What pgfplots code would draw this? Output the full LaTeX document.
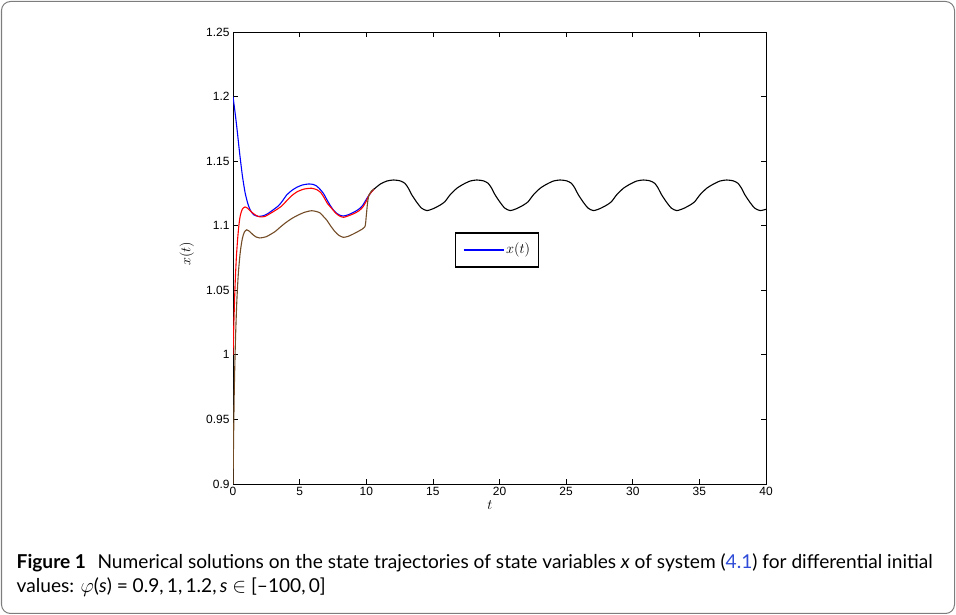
\documentclass[border=0pt]{standalone}
\usepackage{pgfplots}
\pgfplotsset{compat=1.18}
\usepackage{fontspec}
\newfontfamily\tickfont{Liberation Sans}
\newfontfamily\capfont{Lato}
\definecolor{linkblue}{RGB}{45,75,215}
\definecolor{framegray}{RGB}{125,125,125}
\definecolor{curveblue}{RGB}{0,0,255}

% phi = 1.2
\pgfplotstableread{
t y
0 1.2
0.15 1.188
0.3 1.175
0.5 1.156
0.7 1.139
0.9 1.126
1.1 1.1175
1.3 1.112
1.55 1.1085
1.9 1.1072
2.3 1.1078
2.65 1.1096
3.0 1.1122
3.4 1.1153
3.7 1.119
4.03 1.1238
4.4 1.1272
4.78 1.1297
5.2 1.1315
5.65 1.1323
6.0 1.1320
6.28 1.1307
6.55 1.128
6.78 1.1251
7.03 1.1205
7.28 1.116
7.53 1.1122
7.78 1.1096
8.0 1.1082
8.28 1.1075
8.6 1.1083
8.9 1.1096
9.2 1.1112
9.53 1.1135
9.75 1.116
9.9 1.1186
10.15 1.1228
10.4 1.1263
10.6 1.1285
}\curveA

% phi = 1
\pgfplotstableread{
t y
0 1.0
0.08 1.03
0.16 1.055
0.25 1.075
0.35 1.09
0.45 1.101
0.55 1.108
0.7 1.1128
0.9 1.1145
1.1 1.1135
1.4 1.1105
1.7 1.1082
2.0 1.1068
2.4 1.1072
2.8 1.1095
3.2 1.112
3.6 1.1148
4.0 1.119
4.4 1.1232
4.8 1.1262
5.3 1.1283
5.9 1.129
6.3 1.1278
6.6 1.1255
6.85 1.1215
7.1 1.117
7.4 1.1135
7.7 1.1098
8.0 1.1075
8.3 1.1065
8.7 1.1078
9.1 1.1095
9.45 1.1115
9.75 1.1145
10.0 1.119
10.2 1.1235
10.4 1.1262
10.6 1.1285
}\curveB

% phi = 0.9
\pgfplotstableread{
t y
0 0.9
0.05 0.94
0.1 0.975
0.18 1.01
0.28 1.04
0.4 1.063
0.55 1.08
0.7 1.09
0.85 1.095
1.03 1.0968
1.25 1.0955
1.5 1.093
1.75 1.0912
2.0 1.0905
2.5 1.0915
3.15 1.0954
3.5 1.0985
3.9 1.1019
4.4 1.1055
4.9 1.1083
5.4 1.1105
5.9 1.1116
6.25 1.111
6.53 1.1099
6.8 1.107
7.03 1.1044
7.35 1.0995
7.65 1.0954
7.95 1.0925
8.28 1.091
8.65 1.0918
9.03 1.0936
9.5 1.0962
9.9 1.0992
10.0 1.1075
10.1 1.118
10.2 1.1235
10.4 1.127
10.6 1.1285
}\curveC

% common periodic part
\pgfplotstableread{
t y
10.6 1.1285
11.05 1.1322
11.55 1.1346
12.05 1.1354
12.55 1.1347
12.9 1.1328
13.15 1.1292
13.4 1.1242
13.8 1.1180
14.15 1.1136
14.55 1.1117
15.05 1.1133
15.55 1.1160
15.9 1.1186
16.3 1.1240
16.8 1.1290
17.3 1.1322
17.8 1.1346
18.3 1.1354
18.8 1.1347
19.15 1.1328
19.4 1.1292
19.65 1.1242
20.05 1.1180
20.4 1.1136
20.8 1.1117
21.3 1.1133
21.8 1.1160
22.15 1.1186
22.55 1.1240
23.05 1.1290
23.55 1.1322
24.05 1.1346
24.55 1.1354
25.05 1.1347
25.4 1.1328
25.65 1.1292
25.9 1.1242
26.3 1.1180
26.65 1.1136
27.05 1.1117
27.55 1.1133
28.05 1.1160
28.4 1.1186
28.8 1.1240
29.3 1.1290
29.8 1.1322
30.3 1.1346
30.8 1.1354
31.3 1.1347
31.65 1.1328
31.9 1.1292
32.15 1.1242
32.55 1.1180
32.9 1.1136
33.3 1.1117
33.8 1.1133
34.3 1.1160
34.65 1.1186
35.05 1.1240
35.55 1.1290
36.05 1.1322
36.55 1.1346
37.05 1.1354
37.55 1.1347
37.9 1.1328
38.15 1.1292
38.4 1.1242
38.8 1.1180
39.15 1.1136
39.55 1.1117
40 1.1127
}\tail

\begin{document}
\begin{tikzpicture}[x=1bp,y=1bp]
\path (0,0) rectangle (956,615);
\draw[framegray, line width=1bp, rounded corners=9bp] (1.5,1.5) rectangle (954.5,613.5);
\begin{axis}[
  at={(233bp,131bp)}, anchor=south west,
  scale only axis, width=533bp, height=452bp,
  xmin=0, xmax=40, ymin=0.9, ymax=1.25,
  xtick={0,5,10,15,20,25,30,35,40},
  xticklabels={0,5,10,15,20,25,30,35,40},
  ytick={0.9,0.95,1,1.05,1.1,1.15,1.2,1.25},
  yticklabels={0.9,0.95,1,1.05,1.1,1.15,1.2,1.25},
  tick align=inside, major tick length=5bp,
  every tick/.style={black, line width=0.7bp},
  axis line style={black, line width=0.9bp},
  ticklabel style={font=\tickfont\fontsize{12}{12}\selectfont},
  xlabel={$t$}, ylabel={$x(t)$},
  label style={font=\fontsize{15}{15}\selectfont},
  xlabel style={at={(axis description cs:0.482,0)}, anchor=center, yshift=-21.5bp},
  ylabel style={at={(axis description cs:-0.0869,0.509)}, anchor=center},
  every axis plot/.append style={curveblue, line width=1.1bp, no marks, smooth, tension=0.4},
]
\addplot table[x=t,y=y] {\curveA};
\addplot table[x=t,y=y] {\curveB};
\addplot table[x=t,y=y] {\curveC};
\addplot table[x=t,y=y] {\tail};
\end{axis}
% legend box
\node[draw=black, line width=1.3bp, fill=white, anchor=north west, inner xsep=8.5bp,
  inner ysep=0pt, minimum height=34bp, font=\fontsize{13.5}{13.5}\selectfont]
  at (454.5,382.5) {\textcolor{curveblue}{\rule[3.2bp]{40bp}{1.1bp}}\hspace{2.5bp}$x(t)$\hspace{3.5bp}};
\node[anchor=base west, inner sep=0, font=\capfont\fontsize{19.2}{21}\selectfont] at (16.5,46.7)
  {\textbf{Figure 1}\hspace{0.6em}Numerical solutions on the state trajectories of state variables \textit{x} of system ({\color{linkblue}4.1}) for differential initial};
\node[anchor=base west, inner sep=0, font=\capfont\fontsize{19.2}{21}\selectfont] at (16.5,22.3)
  {values: $\varphi$(\textit{s}) = 0.9,\,1,\,1.2,\,\textit{s} $\in$ [–100,\,0]};
\end{tikzpicture}
\end{document}
